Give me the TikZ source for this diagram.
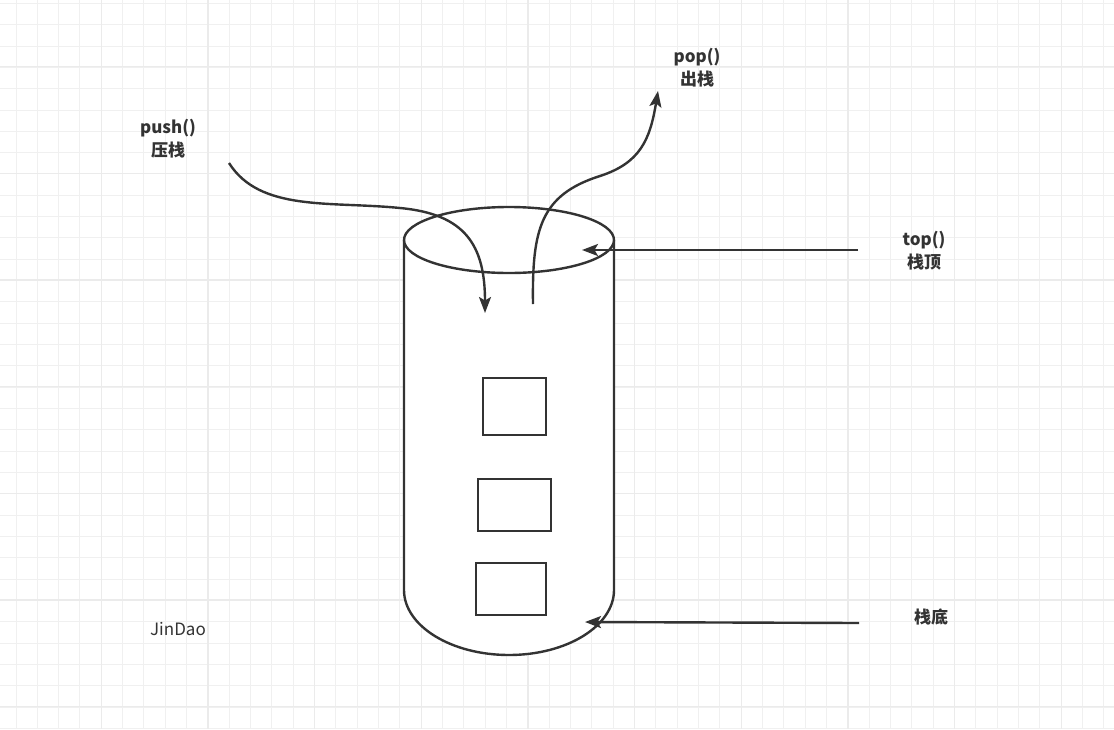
\documentclass[tikz,border=0pt]{standalone}
\usepackage{fontspec}
\setmainfont{Noto Sans CJK SC}
\usetikzlibrary{arrows.meta}
\definecolor{ink}{HTML}{333333}
\definecolor{gridminor}{HTML}{F0F0F0}
\definecolor{gridmajor}{HTML}{EBEBEB}
\tikzset{
  lbl/.style={text=ink, font=\bfseries\fontsize{17}{23}\selectfont, align=center, inner sep=0pt},
  plain/.style={text=ink, font=\fontsize{17}{23}\selectfont, inner sep=0pt},
  item/.style={draw=ink, line width=2.4pt, minimum width=#1, inner sep=0pt},
  conn/.style={draw=ink, line width=2.4pt, -{Stealth[length=16pt,width=12pt,inset=3.5pt]}},
  body/.style={draw=ink, line width=2.4pt}
}
\begin{document}
\begin{tikzpicture}[x=1pt,y=-1pt]
\useasboundingbox (0,0) rectangle (1114,729);
\fill[white] (0,0) rectangle (1114,729);
% grid
\foreach \i in {0,...,52} \draw[gridminor, line width=1pt] ({16+21.333*\i},0) -- ({16+21.333*\i},729);
\foreach \j in {0,...,34} \draw[gridminor, line width=1pt] (0,{3.33+21.333*\j}) -- (1114,{3.33+21.333*\j});
\foreach \i in {0,...,9} \draw[gridmajor, line width=1.1pt] ({101.33+106.667*\i},0) -- ({101.33+106.667*\i},729);
\foreach \j in {0,...,6} \draw[gridmajor, line width=1.1pt] (0,{66.67+106.667*\j}) -- (1114,{66.67+106.667*\j});

% cylinder
\fill[white] (404,240) -- (404,590) arc[start angle=180, end angle=0, x radius=105, y radius=65] -- (614,240) -- cycle;
\draw[body] (404,240) -- (404,590) arc[start angle=180, end angle=0, x radius=105, y radius=65] -- (614,240);
\draw[body, fill=white] (509,240) ellipse[x radius=105, y radius=33];

% stacked items
\node[item=63pt, minimum height=57pt] (b1) at (514.5,406.5) {};
\node[item=73pt, minimum height=52pt] (b2) at (514.5,505) {};
\node[item=70pt, minimum height=52pt] (b3) at (511,589) {};

% labels
\node[lbl] (push) at (168,138.5) {push()\\压栈};
\node[lbl] (pop) at (697,68) {pop()\\出栈};
\node[lbl] (top) at (924,250.5) {top()\\栈顶};
\node[lbl] (bottom) at (931,617) {栈底};
\node[plain] (sig) at (178,629) {JinDao};

% connector anchors
\coordinate (pushS) at (229,163);
\coordinate (pushM) at (400,208);
\coordinate (pushE) at (485,313);
\coordinate (popS) at (533,304);
\coordinate (popM) at (600,176);
\coordinate (popE) at (658,91);
\coordinate (topS) at (858,250);
\coordinate (topE) at (582,250);
\coordinate (botS) at (859,623);
\coordinate (botE) at (585,622);

% connectors
\draw[conn] (pushS) .. controls (260,212) and (330,201) .. (pushM) .. controls (465,214) and (485,245) .. (pushE);
\draw[conn] (popS) .. controls (532,230) and (540,195) .. (popM) .. controls (640,163) and (650,140) .. (popE);
\draw[conn] (topS) -- (topE);
\draw[conn] (botS) -- (botE);
\end{tikzpicture}
\end{document}
